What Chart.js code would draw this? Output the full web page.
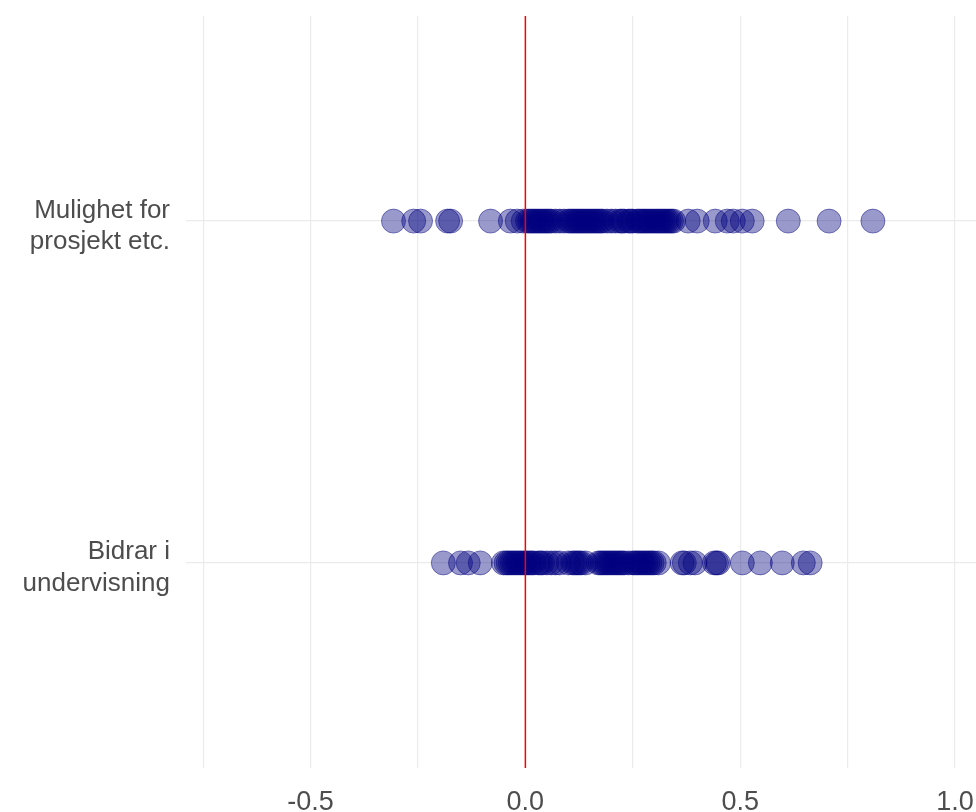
<!DOCTYPE html>
<html>
<head>
<meta charset="utf-8">
<script src="https://cdn.jsdelivr.net/npm/chart.js@4"></script>
<style>
html,body{margin:0;padding:0;background:#fff;}
#wrap{width:976px;height:812px;}
</style>
</head>
<body>
<div id="wrap"><canvas id="c" width="976" height="812"></canvas></div>
<script>
const categories = [["Bidrar i", "undervisning"], ["Mulighet for", "prosjekt etc."]];
const prosjektValues = [-0.307, -0.26, -0.244, -0.181, -0.174, -0.081, -0.035, -0.019, -0.005,
  0.005, 0.01, 0.015, 0.02, 0.025, 0.03, 0.035, 0.04, 0.045, 0.05, 0.055, 0.06, 0.07, 0.08, 0.09,
  0.10, 0.105, 0.11, 0.115, 0.12, 0.125, 0.13, 0.135, 0.14, 0.145, 0.15, 0.155, 0.16, 0.165, 0.17,
  0.175, 0.18, 0.19, 0.20, 0.21, 0.22, 0.225, 0.23, 0.24, 0.245, 0.25, 0.26, 0.265, 0.27, 0.275,
  0.28, 0.285, 0.29, 0.295, 0.30, 0.305, 0.31, 0.315, 0.32, 0.325, 0.33, 0.335, 0.34, 0.345,
  0.379, 0.40, 0.442, 0.47, 0.484, 0.505, 0.528, 0.612, 0.707, 0.809];
const undervisningValues = [-0.191, -0.151, -0.133, -0.105, -0.051, -0.045, -0.04, -0.035, -0.03,
  -0.025, -0.02, -0.015, -0.01, -0.005, 0.0, 0.005, 0.01, 0.015, 0.02, 0.03, 0.035, 0.04, 0.05,
  0.06, 0.07, 0.08, 0.10, 0.11, 0.115, 0.12, 0.125, 0.13, 0.14, 0.17, 0.175, 0.18, 0.185, 0.19,
  0.195, 0.20, 0.205, 0.21, 0.215, 0.22, 0.225, 0.23, 0.24, 0.25, 0.255, 0.26, 0.265, 0.27, 0.275,
  0.28, 0.285, 0.29, 0.295, 0.30, 0.31,
  0.365, 0.37, 0.384, 0.395, 0.44, 0.445, 0.449, 0.505, 0.547, 0.598, 0.647, 0.663];
const xTicks = [-0.75, -0.5, -0.25, 0, 0.25, 0.5, 0.75, 1.0];
const xLabelTicks = [-0.5, 0, 0.5, 1.0];
const refLineX = 0;

const yMin = 0.4, yMax = 2.6;
const xMin = -0.79, xMax = 1.049;

const pointsFor = (vals, idx) => vals.map(v => ({x: v, y: idx + 1}));
const FONT = '"Liberation Sans", Arial, sans-serif';

new Chart(document.getElementById('c'), {
  type: 'scatter',
  data: {
    datasets: [
      {
        type: 'line',
        order: 0,
        data: [{x: refLineX, y: yMin}, {x: refLineX, y: yMax}],
        borderColor: '#ff0000',
        borderWidth: 1.5,
        pointRadius: 0,
        fill: false
      },
      {
        order: 1,
        data: pointsFor(undervisningValues, 0).concat(pointsFor(prosjektValues, 1)),
        backgroundColor: 'rgba(0,0,128,0.4)',
        borderColor: 'rgba(0,0,128,0.45)',
        borderWidth: 1,
        pointRadius: 12,
        pointHoverRadius: 12
      }
    ]
  },
  options: {
    responsive: false,
    animation: false,
    events: [],
    layout: {autoPadding: false, padding: {top: 16, right: 0, left: 0, bottom: 0}},
    plugins: {legend: {display: false}, tooltip: {enabled: false}},
    scales: {
      x: {
        type: 'linear',
        min: xMin, max: xMax,
        afterBuildTicks: s => { s.ticks = xTicks.map(v => ({value: v})); },
        afterFit: s => { s.height = 44; s.paddingLeft = 0; s.paddingRight = 0; },
        border: {display: false},
        grid: {color: '#ebebeb', lineWidth: 1.2, drawTicks: false},
        ticks: {
          autoSkip: false, maxRotation: 0, padding: 18,
          color: '#4d4d4d',
          font: {family: FONT, size: 27},
          callback: v => xLabelTicks.includes(v) ? v.toFixed(1) : ''
        }
      },
      y: {
        type: 'linear',
        min: yMin, max: yMax,
        afterBuildTicks: s => { s.ticks = categories.map((c, i) => ({value: i + 1})); },
        afterFit: s => { s.width = 186; s.paddingTop = 0; s.paddingBottom = 0; },
        border: {display: false},
        grid: {color: '#ebebeb', lineWidth: 1.2, drawTicks: false},
        ticks: {
          autoSkip: false, padding: 16, labelOffset: 5,
          color: '#4d4d4d',
          font: {family: FONT, size: 26, lineHeight: 1.2},
          callback: v => categories[Math.round(v) - 1]
        }
      }
    }
  }
});
</script>
</body>
</html>
